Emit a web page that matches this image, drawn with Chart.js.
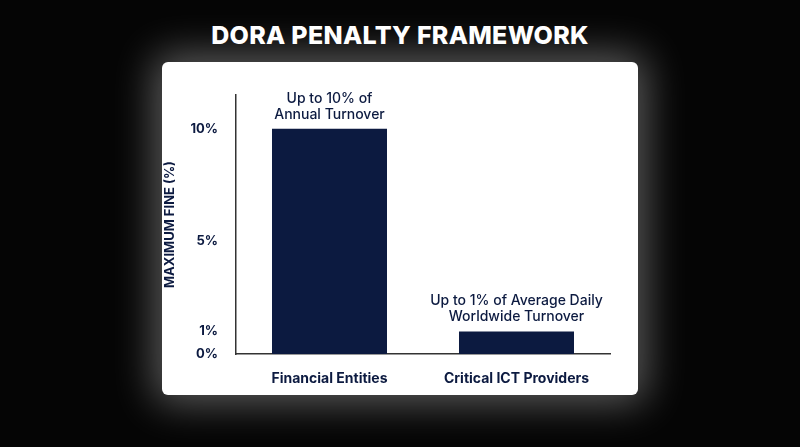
<!DOCTYPE html>
<html>
<head>
<meta charset="utf-8">
<script src="https://cdn.jsdelivr.net/npm/chart.js@4/dist/chart.umd.min.js"></script>
<style>
  body { margin: 0; width: 800px; height: 447px; background: #050505; position: relative; overflow: hidden; font-family: Inter, sans-serif; }
  #title { position: absolute; top: 20px; left: 0; width: 800px; text-align: center; color: #fff; font-weight: 800; font-size: 25px; letter-spacing: 0.3px; }
  #card { position: absolute; left: 162px; top: 62px; width: 476px; height: 333px; background: #fff; border-radius: 6px; box-shadow: 0 0 40px 8px rgba(255,255,255,0.35); }
  #myChart { display: block; }
</style>
</head>
<body>
<div id="title">DORA PENALTY FRAMEWORK</div>
<div id="card"><canvas id="myChart" width="476" height="333"></canvas></div>
<script>
const categories = ['Financial Entities', 'Critical ICT Providers'];
const fineValues = [10, 1];
const barNotes = [['Up to 10% of', 'Annual Turnover'], ['Up to 1% of Average Daily', 'Worldwide Turnover']];
const tickValues = [0, 1, 5, 10];
const navy = '#0c1a40';

const notesPlugin = {
    id: 'notes',
    afterDatasetsDraw(chart) {
        const c = chart.ctx;
        const meta = chart.getDatasetMeta(0);
        c.save();
        c.fillStyle = navy;
        c.font = '500 14px Inter';
        c.textAlign = 'center';
        meta.data.forEach((bar, i) => {
            const lines = barNotes[i];
            lines.forEach((line, j) => {
                c.fillText(line, bar.x, bar.y - 10 - (lines.length - 1 - j) * 16);
            });
        });
        c.restore();
    }
};

new Chart(document.getElementById('myChart'), {
    type: 'bar',
    data: {
        labels: categories,
        datasets: [{
            data: fineValues,
            backgroundColor: navy,
            barPercentage: 0.615,
            categoryPercentage: 1
        }]
    },
    options: {
        responsive: false,
        animation: false,
        layout: { padding: { top: 33, right: 28, bottom: 0, left: 0 } },
        plugins: { legend: { display: false }, tooltip: { enabled: false } },
        scales: {
            x: {
                grid: { display: false },
                border: { display: true, color: '#333', width: 1.5 },
                ticks: { color: navy, font: { family: 'Inter', size: 14, weight: 'bold' }, padding: 8 },
                afterFit(s) { s.height = 41; }
            },
            y: {
                min: 0,
                max: 11.5,
                grid: { display: false },
                border: { display: true, color: '#333', width: 1.5 },
                afterBuildTicks(s) { s.ticks = tickValues.map(v => ({ value: v })); },
                ticks: { color: navy, font: { family: 'Inter', size: 13, weight: 'bold' }, padding: 10, callback: v => v + '%' },
                title: { display: true, text: 'MAXIMUM FINE (%)', color: navy, font: { family: 'Inter', size: 13, weight: 'bold' }, padding: 0 },
                afterFit(s) { s.width = 74; }
            }
        }
    },
    plugins: [notesPlugin]
});
</script>
</body>
</html>
